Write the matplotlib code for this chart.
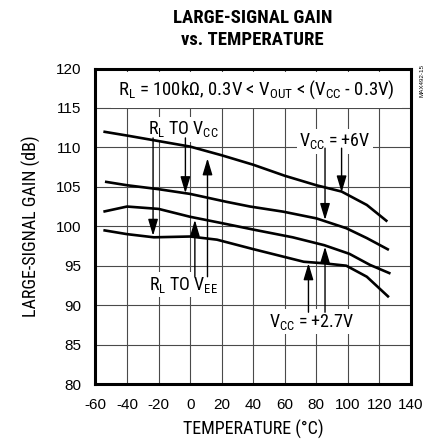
import matplotlib
matplotlib.use("Agg")
import matplotlib.pyplot as plt

# curves (temperature in C, gain in dB)
t1 = [-55, -40, -20, 0, 20, 40, 60, 80, 96, 112, 125]
g1 = [112.0, 111.5, 110.8, 110.1, 109.0, 107.8, 106.4, 105.2, 104.4, 102.7, 100.6]

t2 = [-54, -40, -20, 0, 23, 38, 59, 80, 99, 112, 126]
g2 = [105.65, 105.2, 104.7, 104.1, 103.1, 102.5, 101.85, 101.0, 99.75, 98.5, 97.0]

t3 = [-55, -40, -20, 0, 20, 42, 65, 85, 101, 114, 127]
g3 = [101.85, 102.5, 102.2, 101.2, 100.4, 99.5, 98.6, 97.6, 96.5, 95.1, 94.0]

t4 = [-55, -40, -23, 0, 17, 40, 60, 72, 85, 99, 112, 126]
g4 = [99.5, 99.0, 98.6, 98.7, 98.3, 97.1, 96.1, 95.5, 95.3, 95.0, 93.6, 91.0]

x_ticks = [-60, -40, -20, 0, 20, 40, 60, 80, 100, 120, 140]
y_ticks = [80, 85, 90, 95, 100, 105, 110, 115, 120]

COND = ["Roboto Condensed", "DejaVu Sans"]
plt.rcParams["font.family"] = COND
plt.rcParams["axes.unicode_minus"] = False
plt.rcParams["mathtext.fontset"] = "custom"
plt.rcParams["mathtext.rm"] = "Roboto Condensed"
plt.rcParams["mathtext.it"] = "Roboto Condensed"

fig = plt.figure(figsize=(4.37, 4.42), dpi=100)
ax = fig.add_axes([0.2185, 0.1312, 0.722, 0.7138])

for t, g in [(t1, g1), (t2, g2), (t3, g3), (t4, g4)]:
    ax.plot(t, g, color="black", lw=1.9, solid_capstyle="butt", zorder=3)

ax.set_xlim(-60, 140)
ax.set_ylim(80, 120)
ax.set_xticks(x_ticks)
ax.set_yticks(y_ticks)
ax.grid(True, color="#4a4a4a", lw=0.8)
ax.set_axisbelow(True)
ax.tick_params(length=0, pad=10, labelsize=11)
for lab in ax.get_xticklabels() + ax.get_yticklabels():
    lab.set_family(["Liberation Sans", "DejaVu Sans"])
for s in ax.spines.values():
    s.set_linewidth(2.2)
    s.set_zorder(6)

ax.set_xlabel("TEMPERATURE (°C)", fontsize=13, labelpad=6)
ax.set_ylabel("LARGE-SIGNAL GAIN (dB)", fontsize=13, labelpad=11)
fig.text(0.578, 0.934, "LARGE-SIGNAL GAIN\nvs. TEMPERATURE", ha="center", va="center",
         fontsize=13.5, fontweight="bold", linespacing=1.3)

box = dict(facecolor="white", edgecolor="none", pad=2)
ax.text(42, 117.3, r"R$_\mathrm{L}$ = 100kΩ, 0.3V < V$_\mathrm{OUT}$ < (V$_\mathrm{CC}$ - 0.3V)",
        ha="center", va="center", fontsize=13.5, zorder=5,
        bbox=dict(facecolor="white", edgecolor="none", pad=5))
ax.text(-4.5, 112.3, r"R$_\mathrm{L}$ TO V$_\mathrm{CC}$", ha="center", va="center",
        fontsize=13, zorder=2.5, bbox=box)
ax.text(-4.5, 92.6, r"R$_\mathrm{L}$ TO V$_\mathrm{EE}$", ha="center", va="center",
        fontsize=13, zorder=2.5, bbox=box)
ax.text(91.8, 110.75, r"V$_\mathrm{CC}$ = +6V", ha="center", va="center",
        fontsize=13, zorder=2.5, bbox=box)
ax.text(76.9, 87.9, r"V$_\mathrm{CC}$ = +2.7V", ha="center", va="center",
        fontsize=13, zorder=2.5, bbox=box)

# (temperature, start, tip)
arrows = [(-23.5, 111.2, 98.8), (-3, 111.2, 104.2),
          (3, 93.6, 100.8), (11, 93.6, 108.6),
          (85.5, 109.9, 100.8), (96, 109.9, 104.3),
          (75, 89.1, 95.3), (85.5, 89.1, 97.4)]
for tx, y0, y1 in arrows:
    ax.annotate("", xy=(tx, y1), xytext=(tx, y0), zorder=4,
                arrowprops=dict(arrowstyle="-|>,head_length=1.0,head_width=0.3",
                                mutation_scale=10, color="black", lw=1.0,
                                shrinkA=0, shrinkB=0))

fig.text(0.966, 0.817, "MAX492-15", rotation=90, ha="center", va="center",
         fontsize=4.5, family=["Liberation Sans", "DejaVu Sans"])

fig.savefig("out.png", dpi=100)
